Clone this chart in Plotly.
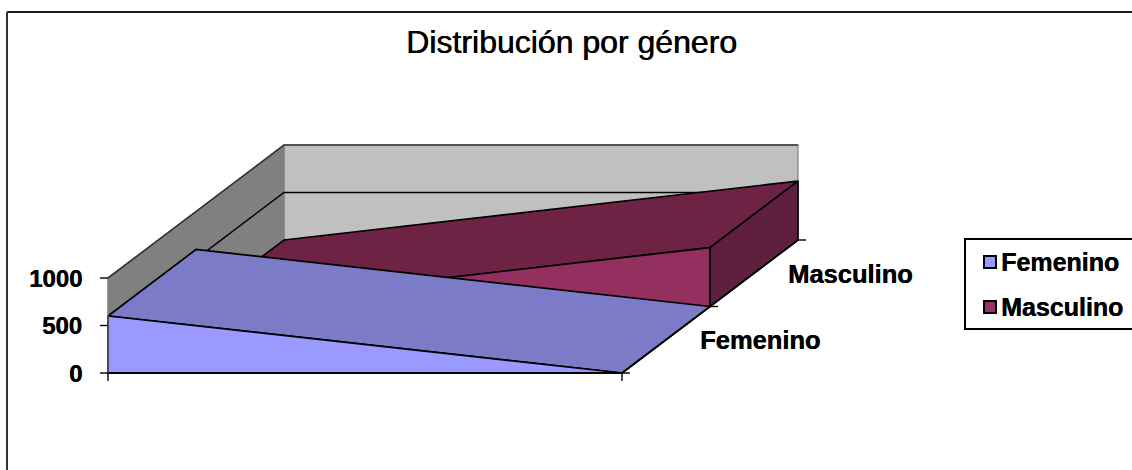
import plotly.graph_objects as go

# ---- data ----
TITLE = "Distribución por género"
SERIES = ["Femenino", "Masculino"]
FEMENINO = [600, 0]
MASCULINO = [0, 620]
VALUE_TICKS = [0, 500, 1000]

# ---- oblique projection of the 3-D area chart onto the page ----
W, H = 1132, 470
X0, Y0 = 108, 373      # front-left floor corner
CAT_W = 514            # width of the category axis
DX, DY = 176, -133     # full depth vector
PX_PER_VALUE = 0.095
AXIS_MAX = 1000


def proj(c, d, v):
    return X0 + CAT_W * c + DX * d, Y0 + DY * d - PX_PER_VALUE * v


def face(points, color, line_color="#000000", line_width=1.7):
    pts = [proj(*p) for p in points] + [proj(*points[0])]
    return go.Scatter(
        x=[p[0] for p in pts], y=[p[1] for p in pts],
        mode="lines", fill="toself", fillcolor=color,
        line=dict(color=line_color, width=line_width),
        hoverinfo="skip", showlegend=False,
    )


def line(points, color="#000000", width=1.4):
    pts = [proj(*p) for p in points]
    return go.Scatter(
        x=[p[0] for p in pts], y=[p[1] for p in pts],
        mode="lines", line=dict(color=color, width=width),
        hoverinfo="skip", showlegend=False,
    )


def area(values, d0, d1, front, top, side):
    a, b = values
    out = [
        face([(0, d0, a), (1, d0, b), (1, d1, b), (0, d1, a)], top),
    ]
    if b > 0:
        out.append(face([(1, d0, 0), (1, d1, 0), (1, d1, b), (1, d0, b)], side))
    out.append(face([(0, d0, 0), (1, d0, 0), (1, d0, b), (0, d0, a)], front))
    return out


traces = [
    # walls
    face([(0, 1, 0), (1, 1, 0), (1, 1, AXIS_MAX), (0, 1, AXIS_MAX)], "#c0c0c0", "#808080", 1.2),
    face([(0, 0, 0), (0, 1, 0), (0, 1, AXIS_MAX), (0, 0, AXIS_MAX)], "#808080", "#808080", 1.2),
    line([(0, 0, AXIS_MAX), (0, 1, AXIS_MAX), (1, 1, AXIS_MAX)], "#333333", 1.6),
    # gridline at 500
    line([(0, 0, 500), (0, 1, 500), (1, 1, 500)], "#000000", 1.5),
]
traces += area(MASCULINO, 0.5, 1, "#933060", "#6e2345", "#5f2040")
traces += area(FEMENINO, 0, 0.5, "#9999ff", "#7b7bc8", "#5f5fa0")
# floor edges and axes
traces.append(line([(0, 0, 0), (1, 0, 0)], "#000000", 1.8))
traces.append(line([(1, 0, 0), (1, 1, 0)], "#000000", 1.6))
traces.append(line([(0, 0, 0), (0, 0, AXIS_MAX)], "#808080", 1))

fig = go.Figure(traces)

shapes = []
annotations = []
BOLD_SHADOW = "0.4px 0 0 #000000"


def seg(x0, y0, x1, y1, color="#000000", width=1.4):
    shapes.append(dict(type="line", xref="x", yref="y", x0=x0, y0=y0, x1=x1, y1=y1,
                       line=dict(color=color, width=width)))


def text(s, x, y, anchor="left", size=24, bold=True, shadow=BOLD_SHADOW):
    font = dict(family="Liberation Sans, Arial, sans-serif", size=size, color="#000000", shadow=shadow)
    annotations.append(dict(
        text=f"<b>{s}</b>" if bold else s, x=x, y=y, xref="x", yref="y",
        xanchor=anchor, yanchor="middle", showarrow=False, font=font,
    ))


# chart frame (top and left edges only)
seg(7, 12, W, 12, "#1a1a1a", 2)
seg(7, 12, 7, H, "#333333", 2)

# value axis ticks and labels
for v in VALUE_TICKS:
    px, py = proj(0, 0, v)
    seg(px - 8, py, px, py)
    text(str(v), px - 24, py, "right", 24)

# category ticks
for c in (0, 1):
    px, py = proj(c, 0, 0)
    seg(px, py, px, py + 8)

# depth ticks and series labels
for d in (0, 0.5, 1):
    px, py = proj(1, d, 0)
    seg(px, py, px + 8, py)
for name, d in zip(SERIES, (0.25, 0.75)):
    px, py = proj(1, d, 0)
    text(name, px + 32, py + 0.5, "left", 25.5)

# legend
shapes.append(dict(type="rect", xref="x", yref="y", x0=965, y0=239, x1=W + 5, y1=329,
                   line=dict(color="#000000", width=2), fillcolor="#ffffff"))
for name, yc, col in zip(SERIES, (262, 307), ("#9999ff", "#993366")):
    shapes.append(dict(type="rect", xref="x", yref="y", x0=984, y0=yc - 6, x1=996, y1=yc + 6,
                       line=dict(color="#000000", width=2), fillcolor=col))
    text(name, 999, yc, "left", 25)

# title
text(TITLE, 571, 42, "center", 32, bold=False, shadow="0.6px 0 0 #000000")

fig.update_layout(
    width=W, height=H,
    margin=dict(l=0, r=0, t=0, b=0),
    paper_bgcolor="#ffffff", plot_bgcolor="#ffffff",
    showlegend=False,
    xaxis=dict(range=[0, W], visible=False, fixedrange=True),
    yaxis=dict(range=[H, 0], visible=False, fixedrange=True),
    shapes=shapes, annotations=annotations,
)
fig.write_html(
    "out.html",
    config={"displayModeBar": False},
    post_script="document.body.style.margin='0';document.documentElement.style.overflow='hidden';",
)
